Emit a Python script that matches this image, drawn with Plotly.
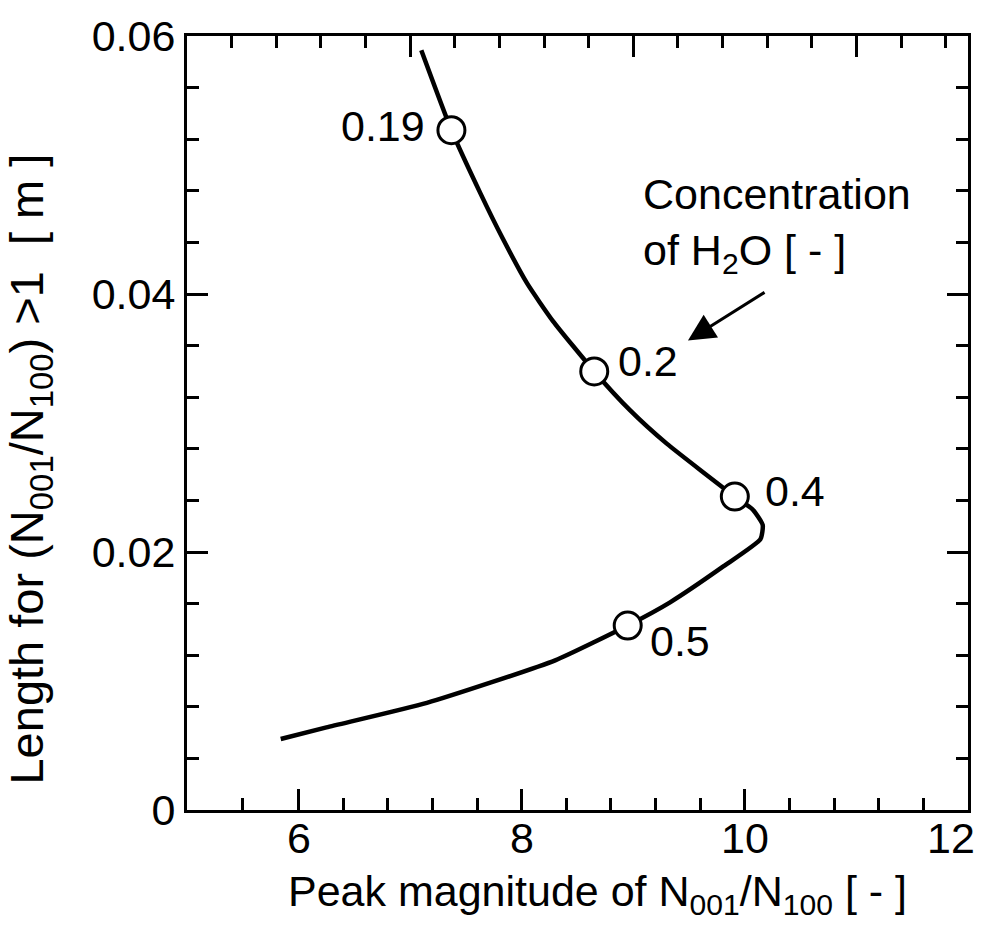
import plotly.graph_objects as go

# Curve: peak magnitude of N001/N100 vs. length for (N001/N100) > 1
curve_x = [7.10, 7.37, 7.63, 7.83, 8.05, 8.28, 8.65, 8.97, 9.30, 9.91, 10.07,
           10.16, 10.14, 9.81, 9.33, 8.95, 8.30, 7.15, 6.25, 5.84]
curve_y = [0.0589, 0.0527, 0.0478, 0.0443, 0.0408, 0.0379, 0.0340, 0.0310,
           0.0284, 0.0243, 0.0233, 0.0221, 0.0210, 0.0189, 0.0161, 0.0143,
           0.0116, 0.0083, 0.0064, 0.0055]

# H2O concentration marks along the curve
conc_labels = ["0.19", "0.2", "0.4", "0.5"]
conc_x = [7.37, 8.65, 9.91, 8.95]
conc_y = [0.0527, 0.0340, 0.0243, 0.0143]

# Axis ticks
x_major = [6, 8, 10, 12]
x_major_text = ["6", "8", "10", "12"]
x_minor = [5.5, 6.4, 6.8, 7.2, 7.6, 8.4, 8.8, 9.2, 9.6, 10.4, 10.8, 11.2, 11.6]
top_major = [7, 9, 11]
top_minor = [5.4, 5.8, 6.2, 6.6, 7.4, 7.8, 8.2, 8.6, 9.4, 9.8, 10.2, 10.6, 11.4, 11.8]
y_major = [0, 0.02, 0.04, 0.06]
y_major_text = ["0", "0.02", "0.04", "0.06"]
y_minor = [0.004, 0.008, 0.012, 0.016, 0.024, 0.028, 0.032, 0.036,
           0.044, 0.048, 0.052, 0.056]

FONT = "Liberation Sans, Arial, Helvetica, sans-serif"
FS = 43
X_RANGE = [5, 12]
Y_RANGE = [0, 0.06]
NB = "\u00a0"

W, H = 985, 925
L, R, T, B = 187, 17, 28, 115
PW, PH = W - L - R, H - T - B


def px_x(p):
    return (p - L) / PW


def px_y(p):
    return (H - B - p) / PH


fig = go.Figure()

fig.add_trace(go.Scatter(
    x=curve_x, y=curve_y, mode="lines",
    line=dict(color="black", width=4.5, shape="spline", smoothing=0.5),
    hoverinfo="skip", showlegend=False,
))
fig.add_trace(go.Scatter(
    x=conc_x, y=conc_y, mode="markers",
    marker=dict(size=27, color="white", line=dict(color="black", width=3)),
    showlegend=False,
))
# empty trace that carries the top/right tick axes
fig.add_trace(go.Scatter(x=[None], y=[None], xaxis="x2", yaxis="y2",
                         showlegend=False, hoverinfo="skip"))

# concentration labels beside their markers
label_shift = [(-24, 4, "right"), (22, 10, "left"), (28, 6, "left"), (20, -15, "left")]
for lab, xv, yv, (dx, dy, anc) in zip(conc_labels, conc_x, conc_y, label_shift):
    fig.add_annotation(x=xv, y=yv, text=lab, showarrow=False,
                       xanchor=anc, yanchor="middle", xshift=dx, yshift=dy,
                       font=dict(family=FONT, size=FS, color="black"))

# x tick labels (the last one is pulled in to stay inside the page)
tick_shift = [0, 0, 0, -17]
for v, t, s in zip(x_major, x_major_text, tick_shift):
    fig.add_annotation(x=v, y=px_y(838), xref="x", yref="paper", text=t,
                       showarrow=False, xanchor="center", yanchor="middle",
                       xshift=s, font=dict(family=FONT, size=FS, color="black"))

# note with arrow
fig.add_annotation(x=px_x(641), y=px_y(161), xref="paper", yref="paper",
                   text="Concentration<br>of H<sub>2</sub>O [ - ]",
                   showarrow=False, align="left", xanchor="left", yanchor="top",
                   font=dict(family=FONT, size=FS, color="black"))
fig.add_annotation(x=9.49, y=0.0364, ax=10.19, ay=0.0402, axref="x", ayref="y",
                   text="", showarrow=True, arrowhead=2, arrowsize=1.8,
                   arrowwidth=3, arrowcolor="black")

# axis titles
fig.add_annotation(x=px_x(597), y=px_y(895), xref="paper", yref="paper",
                   text="Peak magnitude of N<sub>001</sub>/N<sub>100</sub> [ - ]",
                   showarrow=False, xanchor="center", yanchor="middle",
                   font=dict(family=FONT, size=FS, color="black"))
fig.add_annotation(x=px_x(30), y=px_y(466), xref="paper", yref="paper",
                   text="Length for (N<sub>001</sub>/N<sub>100</sub>) >1" + NB * 2 + "[ m ]",
                   textangle=-90, showarrow=False, xanchor="center", yanchor="middle",
                   font=dict(family=FONT, size=47, color="black"))

axis_common = dict(showline=True, linecolor="black", linewidth=3,
                   showgrid=False, zeroline=False, ticks="inside",
                   tickcolor="black", tickwidth=3, ticklen=21,
                   tickfont=dict(family=FONT, size=FS, color="black"))
minor_common = dict(ticks="inside", ticklen=12, tickwidth=3, tickcolor="black",
                    showgrid=False)

fig.update_layout(
    width=W, height=H,
    margin=dict(l=L, r=R, t=T, b=B, pad=0),
    plot_bgcolor="white", paper_bgcolor="white",
    showlegend=False,
    xaxis=dict(range=X_RANGE, tickmode="array", tickvals=x_major,
               showticklabels=False, minor=dict(tickvals=x_minor, **minor_common),
               **axis_common),
    xaxis2=dict(range=X_RANGE, overlaying="x", side="top", tickmode="array",
                tickvals=top_major, showticklabels=False,
                minor=dict(tickvals=top_minor, **minor_common), **axis_common),
    yaxis=dict(range=Y_RANGE, tickmode="array", tickvals=y_major,
               ticktext=y_major_text, minor=dict(tickvals=y_minor, **minor_common),
               **axis_common),
    yaxis2=dict(range=Y_RANGE, overlaying="y", side="right", tickmode="array",
                tickvals=y_major, showticklabels=False,
                minor=dict(tickvals=y_minor, **minor_common), **axis_common),
)

fig.write_html("out.html")
